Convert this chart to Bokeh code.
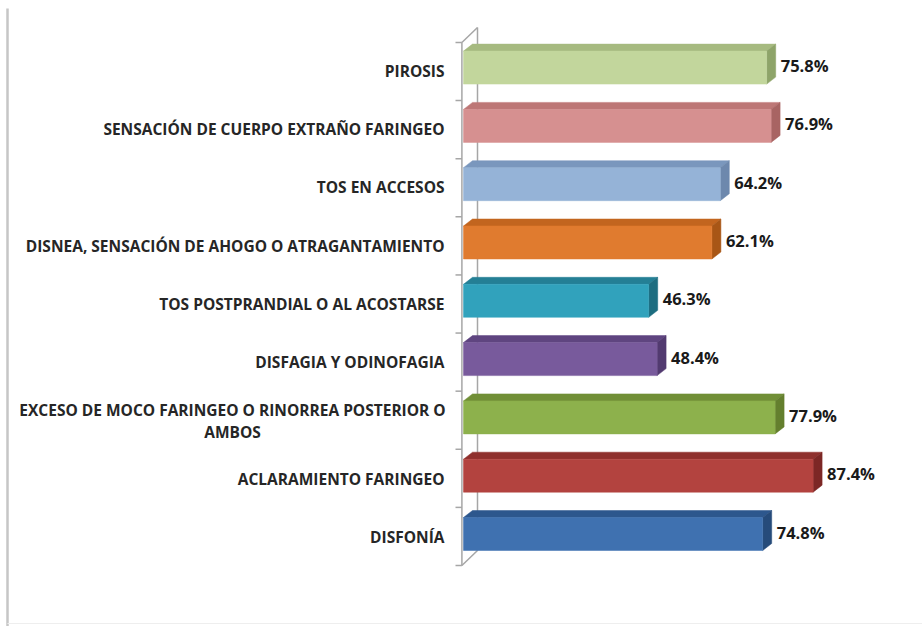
from bokeh.plotting import figure
from bokeh.models import Range1d, ColumnDataSource
from bokeh.core.properties import value
from bokeh.embed import file_html
from bokeh.resources import INLINE

# ---- data (bottom to top) ----
categories = [
    "DISFONÍA",
    "ACLARAMIENTO FARINGEO",
    "EXCESO DE MOCO FARINGEO O RINORREA POSTERIOR O\nAMBOS",
    "DISFAGIA Y ODINOFAGIA",
    "TOS POSTPRANDIAL O AL ACOSTARSE",
    "DISNEA, SENSACIÓN DE AHOGO O ATRAGANTAMIENTO",
    "TOS EN ACCESOS",
    "SENSACIÓN DE CUERPO EXTRAÑO FARINGEO",
    "PIROSIS",
]
percentages = [74.8, 87.4, 77.9, 48.4, 46.3, 62.1, 64.2, 76.9, 75.8]
value_labels = ["74.8%", "87.4%", "77.9%", "48.4%", "46.3%", "62.1%", "64.2%", "76.9%", "75.8%"]

# ---- styles ----
front_colors = ["#3f71b0", "#b3433f", "#8db14c", "#785a9c", "#31a2bc",
                "#e07b2f", "#95b3d7", "#d69090", "#c2d69c"]
top_colors = ["#2d578d", "#8f302d", "#718f37", "#5f4580", "#247f95",
              "#c2651f", "#7a97bd", "#bd7776", "#a6ba80"]
side_colors = ["#264b7a", "#7c2725", "#647f2e", "#523a70", "#1d6d80",
               "#a85616", "#6d88ad", "#a86463", "#8ea469"]

PXX = 4.0     # px per percent
PXY = 58.3    # px per category
X0 = 463      # px of zero
Y0 = 533.5    # px of first category centre
W, H = 922, 626

def dx(px):
    return px / PXX

def dy(px):
    return px / PXY

p = figure(width=W, height=H, output_backend="svg", toolbar_location=None,
           x_range=Range1d(-X0 / PXX, (W - X0) / PXX),
           y_range=Range1d((Y0 - H) / PXY, Y0 / PXY),
           x_axis_type=None, y_axis_type=None, min_border=0)
p.outline_line_color = None
p.grid.visible = False
p.background_fill_color = "white"
p.border_fill_color = "white"

n = len(categories)
ys = list(range(n))
hh = dy(16.5)
ddx, ddy = dx(9), dy(7)

# ---- 3D wall ----
wall_c = "#a6a6a6"
fx, bx = dx(-1.6), dx(14)
f_top, f_bot = dy(Y0 - 42), dy(Y0 - 565)
b_top, b_bot = dy(Y0 - 27), dy(Y0 - 550)
p.multi_line(xs=[[fx, fx], [bx, bx], [fx, bx], [fx, bx]],
             ys=[[f_bot, f_top], [b_bot, b_top], [f_top, b_top], [f_bot, b_bot]],
             line_color=wall_c, line_width=1.5)
step = (f_top - f_bot) / n
tick_xs = [[dx(-8), fx] for k in range(n + 1)]
tick_ys = [[f_bot + k * step, f_bot + k * step] for k in range(n + 1)]
p.multi_line(xs=tick_xs, ys=tick_ys, line_color=wall_c, line_width=1.5)

# ---- bars ----
src = ColumnDataSource(dict(
    y=ys, v=percentages, front=front_colors,
    bottom=[y - hh for y in ys], top=[y + hh for y in ys]))
top_xs = [[0, v, v + ddx, ddx] for v in percentages]
top_ys = [[y + hh, y + hh, y + hh + ddy, y + hh + ddy] for y in ys]
side_xs = [[v, v, v + ddx, v + ddx] for v in percentages]
side_ys = [[y - hh, y + hh, y + hh + ddy, y - hh + ddy] for y in ys]
p.patches(top_xs, top_ys, fill_color=top_colors, line_color=top_colors, line_width=0.5)
p.patches(side_xs, side_ys, fill_color=side_colors, line_color=side_colors, line_width=0.5)
p.quad(left=0, right="v", bottom="bottom", top="top", fill_color="front",
       line_color="front", line_width=0.5, source=src)

# ---- value labels ----
p.text(x=[v + ddx + dx(5) for v in percentages], y=[y + dy(2) for y in ys],
       text=value_labels, text_align="left", text_baseline="middle",
       text_font=value("Open Sans"), text_font_style="bold",
       text_font_size="16.5px", text_color="#1a1a1a")

# ---- category labels ----
single = [i for i, c in enumerate(categories) if "\n" not in c]
p.text(x=[dx(-19)] * len(single), y=[ys[i] - dy(3) for i in single],
       text=[categories[i] for i in single], text_align="right",
       text_baseline="middle", text_font=value("Open Sans"),
       text_font_style="bold", text_font_size="15.5px", text_color="#262626")

# multi-line label: each line centred on the same axis
ml_x, ml_y, ml_t = [], [], []
for i, c in enumerate(categories):
    if "\n" in c:
        lines = c.split("\n")
        for k, line in enumerate(lines):
            ml_x.append(dx(232 - X0))
            ml_y.append(ys[i] + dy(7) - k * dy(22))
            ml_t.append(line)
p.text(x=ml_x, y=ml_y, text=ml_t, text_align="center",
       text_baseline="middle", text_font=value("Open Sans"),
       text_font_style="bold", text_font_size="15.5px", text_color="#262626")

# ---- frame lines ----
p.line(x=[dx(7 - X0), dx(7 - X0)], y=[dy(Y0 - 8), dy(Y0 - H)], line_color="#c6c6c6", line_width=2.5)
p.line(x=[dx(7 - X0), dx(W - X0)], y=[dy(Y0 - 623), dy(Y0 - 623)], line_color="#eeeeee", line_width=1)

open("out.html", "w").write(file_html(p, INLINE))
